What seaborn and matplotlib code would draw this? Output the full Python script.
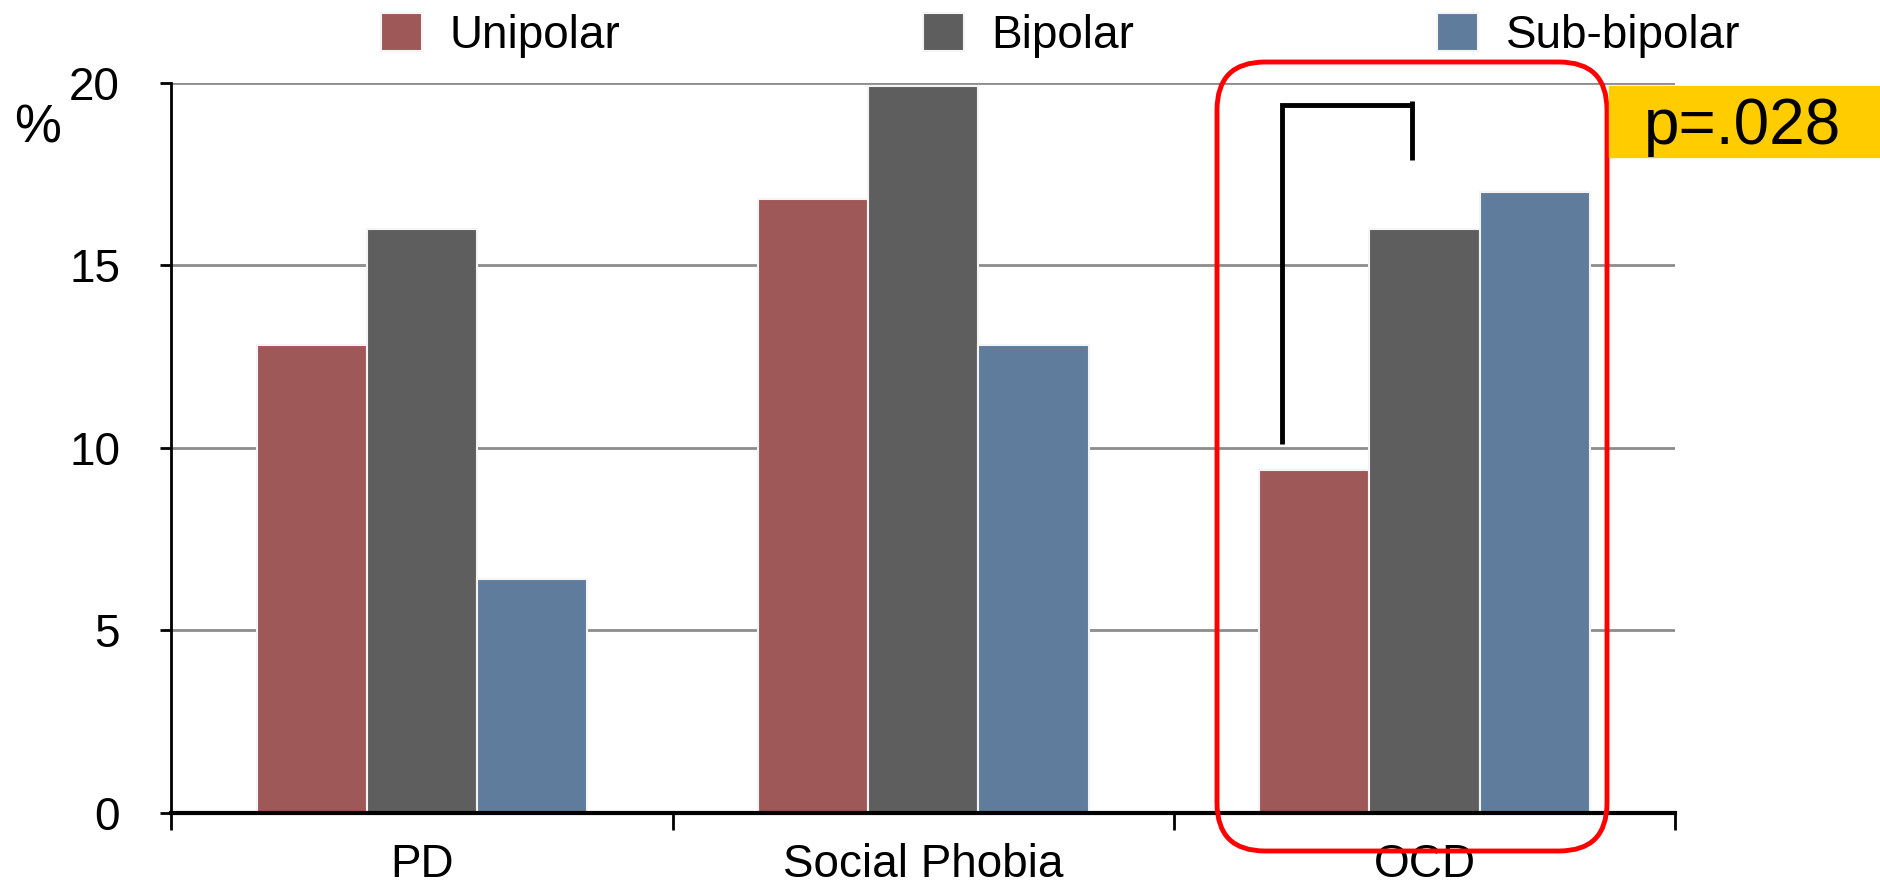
import matplotlib
matplotlib.use("Agg")
import matplotlib.pyplot as plt
from matplotlib.patches import FancyBboxPatch, Rectangle
from matplotlib.transforms import IdentityTransform
import seaborn as sns
import pandas as pd

categories = ["PD", "Social Phobia", "OCD"]
groups = ["Unipolar", "Bipolar", "Sub-bipolar"]
unipolar = [12.8, 16.8, 9.4]
bipolar = [16.0, 19.9, 16.0]
sub_bipolar = [6.4, 12.8, 17.0]
y_ticks = [0, 5, 10, 15, 20]
p_label = "p=.028"

colors = ["#9E5858", "#5E5E5E", "#5F7C9C"]

rows = []
for g, vals in zip(groups, [unipolar, bipolar, sub_bipolar]):
    for c, v in zip(categories, vals):
        rows.append({"cat": c, "val": v, "grp": g})
df = pd.DataFrame(rows)

sns.set_style("white")
plt.rcParams["font.family"] = ["Liberation Sans", "DejaVu Sans"]
plt.rcParams["text.color"] = "black"
plt.rcParams["xtick.color"] = "black"
plt.rcParams["ytick.color"] = "black"
plt.rcParams["xtick.labelcolor"] = "black"
plt.rcParams["ytick.labelcolor"] = "black"

fig = plt.figure(figsize=(18.8, 8.88), dpi=100)
ax = fig.add_axes([0.0912, 0.0846, 0.7998, 0.8224])

sns.barplot(data=df, x="cat", y="val", hue="grp", order=categories,
            hue_order=groups, palette=colors, width=0.66, edgecolor="#f4f4f4",
            linewidth=1.5, saturation=1, ax=ax)

ax.set_xlim(-0.5, 2.5)
ax.set_ylim(0, 20)
ax.set_yticks(y_ticks)
ax.set_yticklabels([str(t) for t in y_ticks])
ax.yaxis.grid(True, color="#8c8c8c", lw=2)
ax.set_axisbelow(True)
ax.set_xlabel("")
ax.set_ylabel("")

ax.set_xticks([-0.5, 0.5, 1.5, 2.5], minor=True)
ax.tick_params(axis="x", which="major", length=0, pad=22, labelsize=33, labelcolor="black")
ax.tick_params(axis="x", which="minor", bottom=True, length=12, width=2,
               direction="out", color="black")
ax.tick_params(axis="y", which="major", left=True, length=8, width=2, direction="out",
               pad=29, labelsize=33, color="black", labelcolor="black")

for s in ["top", "right"]:
    ax.spines[s].set_visible(False)
ax.spines["left"].set_linewidth(2)
ax.spines["left"].set_color("black")
ax.spines["bottom"].set_linewidth(3)
ax.spines["bottom"].set_color("black")

# Legend
handles, labels = ax.get_legend_handles_labels()
ax.get_legend().remove()
leg = fig.legend(handles, labels, loc="center", bbox_to_anchor=(0.564, 0.96), ncol=3,
                 frameon=False, fontsize=33, handlelength=0.9, handleheight=0.9,
                 handletextpad=0.6, columnspacing=6.6)
for t in leg.get_texts():
    t.set_color("black")

# "%" label
fig.text(0.02, 0.855, "%", fontsize=38, ha="center", va="center", color="black")

# Significance bracket
ax.plot([1.715, 1.715, 1.976], [10.1, 19.39, 19.39], color="black", lw=3.5,
        solid_joinstyle="miter", solid_capstyle="butt")
ax.plot([1.976, 1.976], [19.5, 17.89], color="black", lw=3.5, solid_capstyle="butt")

# Red rounded highlight box
fig.patches.append(FancyBboxPatch((1217, 888 - 851), 390, 789,
                                  boxstyle="round,pad=0,rounding_size=48",
                                  transform=IdentityTransform(), fill=False,
                                  ec="#FF0000", lw=3.5, figure=fig))

# Yellow p-value box
fig.patches.append(Rectangle((0.856, 0.823), 0.144, 0.08, transform=fig.transFigure,
                             color="#FFCC00", figure=fig))
fig.text(0.927, 0.857, p_label, fontsize=46, ha="center", va="center", color="black",
         family=["Liberation Sans Narrow", "Liberation Sans", "DejaVu Sans"])

fig.savefig("out.png", dpi=100)
